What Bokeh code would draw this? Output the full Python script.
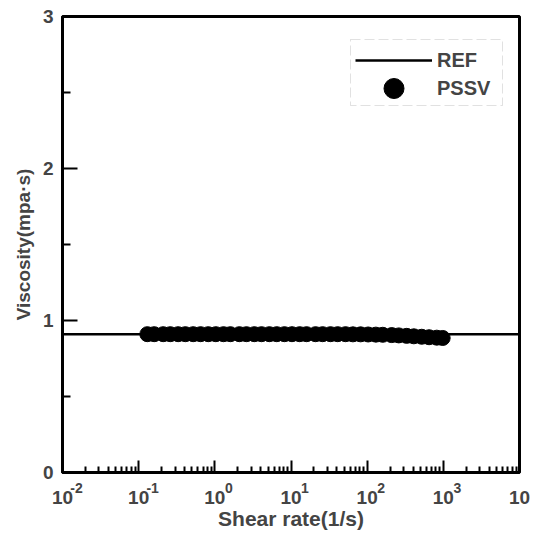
from bokeh.plotting import figure
from bokeh.models import (FixedTicker, Legend, LegendItem, Range1d, LogAxis, LogScale,
                          CustomJSTickFormatter, BoxAnnotation)
from bokeh.embed import file_html
from bokeh.resources import INLINE

# Data
ref_x = [0.01, 10000]
ref_y = [0.91, 0.91]

shear_rate = [0.13, 0.16, 0.21, 0.26, 0.33, 0.41, 0.52, 0.65, 0.82, 1.03,
              1.3, 1.6, 2.1, 2.6, 3.3, 4.1, 5.2, 6.5, 8.2, 10.3,
              13, 16, 21, 26, 33, 41, 52, 65, 82, 103,
              130, 160, 210, 260, 330, 410, 520, 650, 820, 980]
viscosity = [0.910, 0.910, 0.910, 0.910, 0.910, 0.910, 0.910, 0.910, 0.910, 0.910,
             0.910, 0.910, 0.910, 0.910, 0.910, 0.910, 0.910, 0.910, 0.910, 0.910,
             0.910, 0.910, 0.910, 0.910, 0.910, 0.910, 0.910, 0.909, 0.909, 0.908,
             0.907, 0.906, 0.904, 0.902, 0.899, 0.896, 0.893, 0.890, 0.887, 0.885]

x_ticks = [0.01, 0.1, 1, 10, 100, 1000, 10000]
x_tick_base = ["10", "10", "10", "10", "10", "10", "10"]
x_tick_exp = ["-2", "-1", "0", "1", "2", "3", "4"]
y_ticks = [0, 1, 2, 3]
y_minor = [0.5, 1.5, 2.5]

FONT = "Liberation Sans"
X0, X1 = 0.01, 10000
EXP_SHIFT_DECADES = 0.184   # superscript sits ~14px right of its tick

p = figure(width=539, height=537, x_axis_type="log",
           x_range=Range1d(X0, X1), y_range=Range1d(0, 3),
           output_backend="svg", toolbar_location=None,
           min_border_left=62, min_border_right=20, min_border_top=16, min_border_bottom=65)
p.grid.visible = False
p.outline_line_color = "black"
p.outline_line_width = 3
p.background_fill_color = "white"
p.border_fill_color = "white"

r_line = p.line(ref_x, ref_y, line_color="black", line_width=2.5)
r_pts = p.scatter(shear_rate, viscosity, size=15, fill_color="black", line_color="black")

LOOKUP = """
let best = 0, bd = 1e9;
for (let i = 0; i < tv.length; i++) {
  const d = Math.abs(Math.log10(tick) - Math.log10(tv[i]));
  if (d < bd) { bd = d; best = i; }
}
return bd < 1e-6 ? lab[best] : '';
"""

# main x axis: ticks only
xa = p.xaxis[0]
xa.ticker = FixedTicker(ticks=x_ticks,
                        minor_ticks=[m * 10 ** e for e in range(-2, 4) for m in range(2, 10)])
xa.formatter = CustomJSTickFormatter(code="return ''")
xa.major_label_text_font_size = "0px"
xa.major_tick_in = 12
xa.major_tick_out = 0
xa.minor_tick_in = 6
xa.minor_tick_out = 0
xa.major_tick_line_width = 2
xa.minor_tick_line_width = 2
xa.axis_line_width = 3
xa.major_label_standoff = 0

# superscript exponents (shifted range so they sit to the right of each tick)
p.extra_x_ranges = {"xexp": Range1d(X0 * 10 ** (-EXP_SHIFT_DECADES), X1 * 10 ** (-EXP_SHIFT_DECADES))}
p.extra_x_scales = {"xexp": LogScale()}
ax_exp = LogAxis(x_range_name="xexp", ticker=FixedTicker(ticks=x_ticks, minor_ticks=[]),
                 formatter=CustomJSTickFormatter(args=dict(tv=x_ticks, lab=x_tick_exp), code=LOOKUP))
ax_exp.axis_line_color = None
ax_exp.major_tick_line_color = None
ax_exp.minor_tick_line_color = None
ax_exp.major_tick_in = 0
ax_exp.major_tick_out = 0
ax_exp.major_label_standoff = 10
ax_exp.major_label_text_font = FONT
ax_exp.major_label_text_font_style = "bold"
ax_exp.major_label_text_font_size = "14px"
p.add_layout(ax_exp, "below")

# bases "10" and axis title
ax_base = LogAxis(ticker=FixedTicker(ticks=x_ticks, minor_ticks=[]),
                  formatter=CustomJSTickFormatter(args=dict(tv=x_ticks, lab=x_tick_base), code=LOOKUP))
ax_base.axis_line_color = None
ax_base.major_tick_line_color = None
ax_base.minor_tick_line_color = None
ax_base.major_tick_in = 0
ax_base.major_tick_out = 0
ax_base.major_label_standoff = -5
ax_base.major_label_text_font = FONT
ax_base.major_label_text_font_style = "bold"
ax_base.major_label_text_font_size = "19px"
ax_base.axis_label = "Shear rate(1/s)"
ax_base.axis_label_text_font = FONT
ax_base.axis_label_text_font_style = "bold"
ax_base.axis_label_text_font_size = "21px"
ax_base.axis_label_standoff = 0
p.add_layout(ax_base, "below")

ya = p.yaxis[0]
ya.ticker = FixedTicker(ticks=y_ticks, minor_ticks=y_minor)
ya.major_tick_in = 15
ya.major_tick_out = 0
ya.minor_tick_in = 8
ya.minor_tick_out = 0
ya.major_tick_line_width = 2
ya.minor_tick_line_width = 2
ya.axis_line_width = 3
ya.major_label_text_font = FONT
ya.major_label_text_font_style = "bold"
ya.major_label_text_font_size = "19px"
ya.major_label_standoff = 9
ya.axis_label = "Viscosity(mpa\u00b7s)"
ya.axis_label_text_font = FONT
ya.axis_label_text_font_style = "bold"
ya.axis_label_text_font_size = "19px"
ya.axis_label_standoff = 6

# legend frame
p.add_layout(BoxAnnotation(left=350, right=502, top=39, bottom=105,
                           left_units="canvas", right_units="canvas",
                           top_units="canvas", bottom_units="canvas",
                           fill_alpha=0, line_color="#9a9a9a", line_width=1,
                           line_dash="10 4"))

def make_legend(item, gh, loc):
    lg = Legend(items=[item], location=loc)
    lg.glyph_width = 77
    lg.glyph_height = gh
    lg.spacing = 0
    lg.padding = 0
    lg.margin = 0
    lg.label_text_font = FONT
    lg.label_text_font_style = "bold"
    lg.label_text_font_size = "20px"
    lg.label_height = gh
    lg.label_standoff = 5
    lg.border_line_alpha = 0
    lg.background_fill_alpha = 0
    return lg

p.add_layout(make_legend(LegendItem(label="REF", renderers=[r_line]), 24, (293, 400)))
p.add_layout(make_legend(LegendItem(label="PSSV", renderers=[r_pts]), 50, (293, 359)))

open("out.html", "w").write(file_html(p, INLINE))
